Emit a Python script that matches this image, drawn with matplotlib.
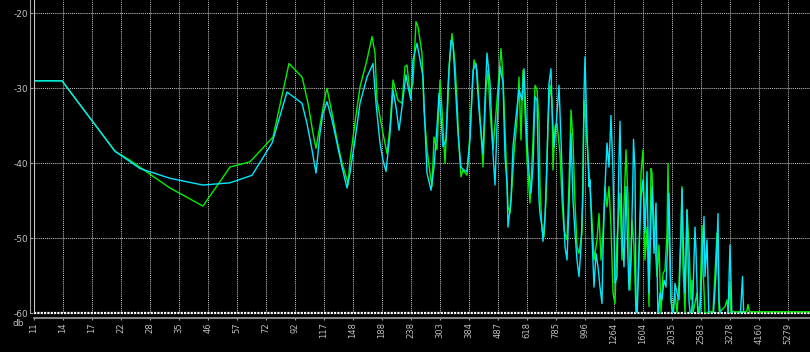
import numpy as np
import matplotlib
matplotlib.use("Agg")
import matplotlib.pyplot as plt

# x labels of the log-frequency axis (Hz), one label every 29 display bins
freq_labels = ['11', '14', '17', '22', '28', '35', '46', '57', '72', '92', '117', '148',
               '188', '238', '303', '384', '487', '618', '785', '996', '1264', '1604',
               '2035', '2583', '3278', '4160', '5279']
bins_per_label = 29
db_ticks = [-20, -30, -40, -50, -60]

# green trace: (display bin, level in dB)
green = [
    (1, -29.0), (28, -29.0), (81, -38.4), (96, -39.6), (136, -43.3), (169, -45.7), (196, -40.5),
    (216, -39.8), (239, -36.5), (255, -26.7), (268, -28.5), (269, -29.0), (274, -32.0), (279, -36.0),
    (282, -38.0), (291, -31.1), (293, -30.0), (298, -33.3), (303, -36.9), (308, -40.0), (313, -42.2),
    (314, -42.9), (316, -39.6), (322, -33.6), (326, -29.8), (333, -26.2), (338, -23.1), (341, -25.3),
    (343, -31.6), (346, -33.8), (349, -36.0), (353, -38.7), (356, -35.1), (359, -28.9), (364, -31.6),
    (368, -32.0), (371, -27.1), (373, -26.9), (376, -30.7), (379, -29.3), (382, -21.1), (384, -21.8),
    (388, -25.3), (390, -32.9), (393, -38.2), (396, -41.3), (398, -43.1), (400, -36.5), (403, -38.2),
    (406, -28.9), (408, -32.9), (411, -40.0), (414, -31.6), (415, -27.1), (418, -22.7), (421, -26.7),
    (423, -31.6), (425, -37.8), (427, -41.8), (429, -40.9), (433, -41.6), (436, -36.0), (438, -30.7),
    (440, -26.2), (443, -27.6), (446, -33.8), (449, -40.5), (452, -29.8), (454, -27.6), (456, -32.9),
    (459, -38.2), (463, -31.6), (467, -24.7), (469, -28.5), (472, -39.1), (474, -45.8), (476, -46.7),
    (478, -43.1), (480, -38.7), (483, -34.2), (485, -28.5), (487, -36.9), (489, -27.6), (490, -30.2),
    (493, -39.6), (496, -45.3), (499, -36.9), (501, -29.6), (503, -30.2), (505, -34.2), (506, -43.1),
    (508, -48.9), (510, -49.8), (512, -44.9), (514, -34.7), (516, -29.6), (518, -31.6), (519, -40.9),
    (521, -35.1), (523, -34.7), (526, -38.7), (528, -44.9), (530, -48.9), (533, -50.2), (535, -42.7),
    (537, -32.9), (539, -36.9), (541, -45.3), (543, -51.1), (545, -52.0), (548, -49.3), (550, -31.6),
    (552, -35.1), (554, -39.1), (556, -43.1), (559, -49.8), (560, -52.9), (563, -50.2), (565, -46.7),
    (567, -52.9), (569, -49.3), (571, -43.1), (573, -45.8), (575, -43.1), (577, -48.5), (579, -57.3),
    (581, -58.7), (583, -50.2), (586, -44.0), (588, -52.9), (590, -45.8), (592, -38.2), (594, -44.9),
    (596, -56.9), (598, -47.6), (600, -51.1), (602, -60.0), (604, -56.0), (606, -47.1), (607, -41.3),
    (609, -38.2), (610, -45.3), (611, -52.9), (613, -48.5), (615, -59.1), (617, -40.7), (618, -41.3),
    (620, -48.5), (623, -55.1), (625, -50.9), (627, -60.0), (629, -54.7), (631, -54.2), (633, -49.3),
    (634, -40.0), (635, -49.3), (637, -58.2), (639, -60.0), (641, -57.3), (643, -60.0), (645, -56.0),
    (647, -48.9), (648, -43.1), (649, -53.8), (651, -60.0), (653, -46.2), (655, -51.1), (657, -58.2),
    (658, -55.6), (659, -60.0), (663, -57.3), (664, -60.0), (666, -58.9), (668, -48.3), (669, -53.8),
    (671, -60.0), (675, -59.8), (679, -59.8), (681, -54.7), (683, -49.3), (684, -52.0), (685, -59.6),
    (686, -59.8), (691, -59.1), (693, -58.2), (694, -59.8), (695, -58.0), (696, -55.8), (697, -59.8),
    (712, -59.8), (713, -59.6), (714, -58.8), (715, -59.6), (716, -59.8), (776, -59.8),
]

# cyan trace
cyan = [
    (1, -29.0), (28, -29.0), (81, -38.4), (106, -40.7), (136, -42.0), (169, -42.9), (196, -42.6),
    (218, -41.6), (238, -37.3), (253, -30.5), (268, -32.0), (273, -34.7), (278, -38.2), (282, -41.3),
    (286, -36.0), (289, -33.3), (293, -31.8), (298, -34.2), (303, -37.3), (308, -40.5), (313, -43.3),
    (316, -41.3), (321, -36.9), (325, -32.9), (326, -32.0), (333, -28.5), (339, -26.7), (342, -32.0),
    (346, -37.3), (349, -39.6), (352, -41.1), (356, -36.0), (359, -30.2), (362, -32.5), (365, -35.6),
    (368, -32.5), (372, -28.2), (374, -29.8), (377, -31.6), (379, -26.2), (383, -24.0), (386, -26.2),
    (389, -28.5), (391, -35.1), (393, -41.3), (397, -43.6), (400, -40.5), (403, -35.1), (405, -30.7),
    (407, -33.8), (409, -37.8), (412, -36.9), (414, -29.8), (417, -23.6), (419, -24.0), (421, -28.9),
    (424, -36.0), (427, -40.5), (430, -40.9), (433, -41.1), (436, -36.9), (439, -27.6), (442, -26.7),
    (445, -32.9), (449, -38.7), (451, -31.6), (453, -25.3), (456, -29.3), (459, -38.7), (461, -42.9),
    (463, -35.1), (466, -27.1), (469, -29.3), (471, -39.1), (473, -42.7), (474, -48.5), (477, -44.9),
    (479, -37.8), (482, -33.8), (485, -30.2), (488, -31.6), (490, -27.4), (493, -36.9), (495, -41.3),
    (497, -44.0), (499, -40.5), (501, -31.1), (503, -31.6), (505, -44.9), (506, -46.7), (508, -48.5),
    (509, -50.4), (511, -47.1), (513, -39.6), (515, -29.3), (517, -27.4), (518, -32.5), (520, -37.8),
    (522, -35.1), (524, -31.6), (525, -29.6), (527, -36.9), (529, -44.9), (531, -51.1), (533, -52.9),
    (535, -45.8), (537, -36.0), (539, -44.9), (541, -49.3), (543, -52.9), (545, -55.1), (547, -51.1),
    (549, -44.0), (550, -30.7), (551, -25.8), (553, -36.0), (555, -43.1), (556, -42.2), (558, -49.8),
    (560, -56.5), (562, -52.0), (564, -53.8), (566, -56.5), (568, -58.7), (569, -51.6), (571, -43.1),
    (573, -37.3), (575, -40.5), (577, -33.6), (579, -41.3), (581, -56.0), (583, -55.1), (585, -39.6),
    (586, -34.4), (588, -48.9), (590, -53.8), (592, -43.1), (594, -52.9), (595, -56.9), (597, -52.9),
    (599, -41.3), (599.5, -36.8), (601, -40.9), (602, -58.7), (603, -61.0), (605, -52.0), (607, -44.5),
    (609, -42.2), (611, -49.3), (613, -41.1), (615, -57.3), (617, -47.1), (618, -43.1), (620, -52.0),
    (622, -45.3), (624, -61.0), (626, -57.3), (628, -58.2), (630, -55.6), (632, -56.5), (634, -49.3),
    (635, -44.0), (637, -58.2), (639, -61.0), (641, -56.0), (643, -57.3), (645, -58.2), (647, -49.3),
    (648, -43.4), (649, -49.3), (651, -57.3), (653, -46.2), (655, -58.4), (657, -61.0), (659, -57.3),
    (661, -48.5), (662, -51.6), (664, -61.0), (666, -59.6), (668, -53.8), (670, -47.1), (671, -55.1),
    (673, -50.2), (675, -61.0), (679, -61.0), (682, -54.7), (684, -46.7), (685, -58.2), (687, -61.0),
    (694, -61.0), (695, -55.6), (696, -50.9), (697, -55.6), (698, -61.0), (706, -61.0), (707, -58.7),
    (708, -56.2), (708.5, -55.1), (709, -57.6), (710, -61.0), (776, -61.0),
]

TXT = '#c0c0c0'
W, H = 810, 352

fig = plt.figure(figsize=(W / 100, H / 100), dpi=100, facecolor='black')
# plot area: left edge at 34px, floor (-60 dB) at 313px from top, 7.5 px per dB
ax = fig.add_axes([34 / W, (H - 313.3) / H, (W - 34) / W, 313.3 / H])
ax.set_facecolor('black')

# spines first: set_position resets the ticks
for s in ['top', 'right']:
    ax.spines[s].set_visible(False)
ax.spines['left'].set_position(('outward', 3))
ax.spines['bottom'].set_position(('outward', 3.6))
ax.spines['left'].set_color('#a0a0a0')
ax.spines['bottom'].set_color('#a0a0a0')
ax.spines['left'].set_linewidth(0.8)
ax.spines['bottom'].set_linewidth(1.2)

n_bins = W - 34
ax.set_xlim(0, n_bins)
ax.set_ylim(-60, -60 + 313.3 / 7.5)

xt = np.arange(len(freq_labels)) * bins_per_label
ax.set_xticks(xt, freq_labels)
ax.set_yticks(db_ticks, [str(v) for v in db_ticks])
ax.tick_params(axis='y', direction='in', length=2.5, width=0.8, color='#a0a0a0', pad=1,
               labelsize=6.5, labelcolor=TXT)
ax.tick_params(axis='x', direction='out', length=1.5, width=0.8, color='#a0a0a0', pad=1.5,
               labelsize=6, labelcolor=TXT, labelrotation=90)
for lab in ax.get_xticklabels():
    lab.set_va('top')

# dotted grid
for x in xt[1:]:
    ax.axvline(x, color=TXT, lw=0.75, ls=(0, (1, 1)), zorder=1)
for y in db_ticks[:-1]:
    ax.axhline(y, color=TXT, lw=0.75, ls=(0, (1, 1)), zorder=1)
ax.axhline(-60, color='white', lw=1.6, ls=(0, (1, 0.5)), zorder=1, clip_on=False)
ax.axvline(0, color='#c8c8c8', lw=1.5, zorder=5)

gx, gy = zip(*green)
cx, cy = zip(*cyan)
ax.plot(gx, gy, color='#00f000', lw=1.0, zorder=3)
ax.plot(cx, cy, color='#00e8ff', lw=1.0, zorder=4)

fig.text(18 / W, 1 - 324 / H, 'db', ha='center', va='center', fontsize=6.5, color=TXT)

fig.savefig('out.png', dpi=100, facecolor='black')
